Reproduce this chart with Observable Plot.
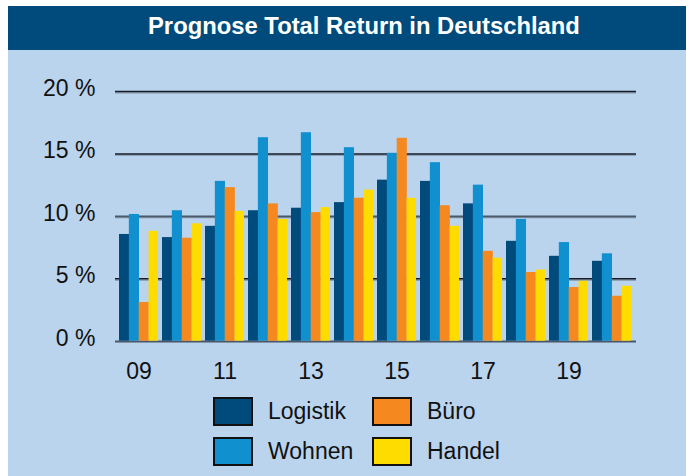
<!DOCTYPE html>
<html>
<head>
<meta charset="utf-8">
<script src="https://cdn.jsdelivr.net/npm/d3@7"></script>
<script src="https://cdn.jsdelivr.net/npm/@observablehq/plot@0.6"></script>
<style>
  html, body { margin: 0; padding: 0; background: #ffffff; }
  body { width: 690px; height: 476px; overflow: hidden; position: relative; font-family: "Liberation Sans", Arial, Helvetica, sans-serif; }
  #wrap { position: absolute; left: 8px; top: 6px; width: 678px; height: 470px; }
  #title { height: 44px; line-height: 40px; background: #004b7c; color: #ffffff; font-weight: bold; font-size: 23.8px; padding-left: 140px; box-sizing: border-box; white-space: nowrap; }
  #panel { position: relative; height: 426px; background: #bad4ee; }
  #chart { position: absolute; left: 0; top: 0; }
  #chart svg { display: block; }
  .leg { position: absolute; display: flex; align-items: center; font-size: 23px; color: #111; }
  .sw { width: 40px; height: 29px; box-sizing: border-box; border: 2.5px solid #111; margin-right: 15px; }
</style>
</head>
<body>
<div id="wrap">
  <div id="title">Prognose Total Return in Deutschland</div>
  <div id="panel">
    <div id="chart"></div>
    <div id="legend"></div>
  </div>
</div>
<script>
const years = ["09","10","11","12","13","14","15","16","17","18","19","20"];
const logistik = [8.55, 8.3, 9.2, 10.45, 10.65, 11.1, 12.9, 12.8, 11.0, 8.0, 6.8, 6.4];
const wohnen   = [10.15, 10.45, 12.8, 16.3, 16.7, 15.5, 15.05, 14.3, 12.5, 9.75, 7.9, 7.0];
const buero    = [3.1, 8.25, 12.3, 11.0, 10.3, 11.45, 16.25, 10.85, 7.2, 5.5, 4.3, 3.6];
const handel   = [8.8, 9.4, 10.4, 9.75, 10.7, 12.1, 11.45, 9.2, 6.65, 5.7, 4.8, 4.4];
const seriesNames = ["Logistik", "Wohnen", "Büro", "Handel"];
const seriesColors = ["#004b7c", "#1190d0", "#f5891f", "#ffdc00"];
const yTicks = [0, 5, 10, 15, 20];
const xTickLabels = ["09","11","13","15","17","19"];

const seriesValues = [logistik, wohnen, buero, handel];
const data = years.flatMap((y, i) => seriesNames.map((s, j) => ({year: y, series: s, idx: j, value: seriesValues[j][i]})));

const W = 678, H = 345, mL = 107, mR = 50, mT = 41, mB = 54.3;
const pInner = 0.092, pOuter = 0.048;
const xs = Plot.scale({x: {type: "band", domain: years, range: [mL, W - mR], paddingInner: pInner, paddingOuter: pOuter}});
const w = xs.bandwidth / 4;

const plot = Plot.plot({
  width: W, height: H,
  marginLeft: mL, marginRight: mR, marginTop: mT, marginBottom: mB,
  style: {background: "transparent", fontFamily: "'Liberation Sans', Arial, Helvetica, sans-serif", fontSize: "23px", color: "#111", overflow: "visible"},
  x: {type: "band", domain: years, paddingInner: pInner, paddingOuter: pOuter, label: null},
  y: {domain: [0, 20], label: null},
  marks: [
    Plot.ruleY(yTicks, {dy: 1.3, stroke: "#8193a8", strokeWidth: 1.2}),
    Plot.ruleY(yTicks, {stroke: d => (d === 0 || d === 10) ? "#4a5868" : "#161b26", strokeWidth: 1.6}),
    ...seriesNames.map((s, j) => Plot.barY(data.filter(d => d.series === s), {
      x: "year", y: "value", fill: seriesColors[j],
      insetLeft: j * w, insetRight: Math.max(0, (3 - j) * w - 0.7)
    })),
    Plot.axisX(xTickLabels, {tickSize: 0, tickPadding: 21, fontSize: 23, fill: "#111", label: null}),
    Plot.axisY(yTicks, {tickSize: 0, tickPadding: 20, dy: -3, fontSize: 23, fill: "#111", label: null, tickFormat: d => d + " %"})
  ]
});
document.getElementById("chart").appendChild(plot);

const legend = document.getElementById("legend");
const legPos = [[205, 347], [205, 387], [364, 347], [364, 387]];
seriesNames.forEach((s, j) => {
  const it = document.createElement("div");
  it.className = "leg";
  it.style.left = legPos[j][0] + "px";
  it.style.top = legPos[j][1] + "px";
  const sw = document.createElement("div");
  sw.className = "sw";
  sw.style.background = seriesColors[j];
  const tx = document.createElement("span");
  tx.textContent = s;
  it.appendChild(sw); it.appendChild(tx);
  legend.appendChild(it);
});
</script>
</body>
</html>
